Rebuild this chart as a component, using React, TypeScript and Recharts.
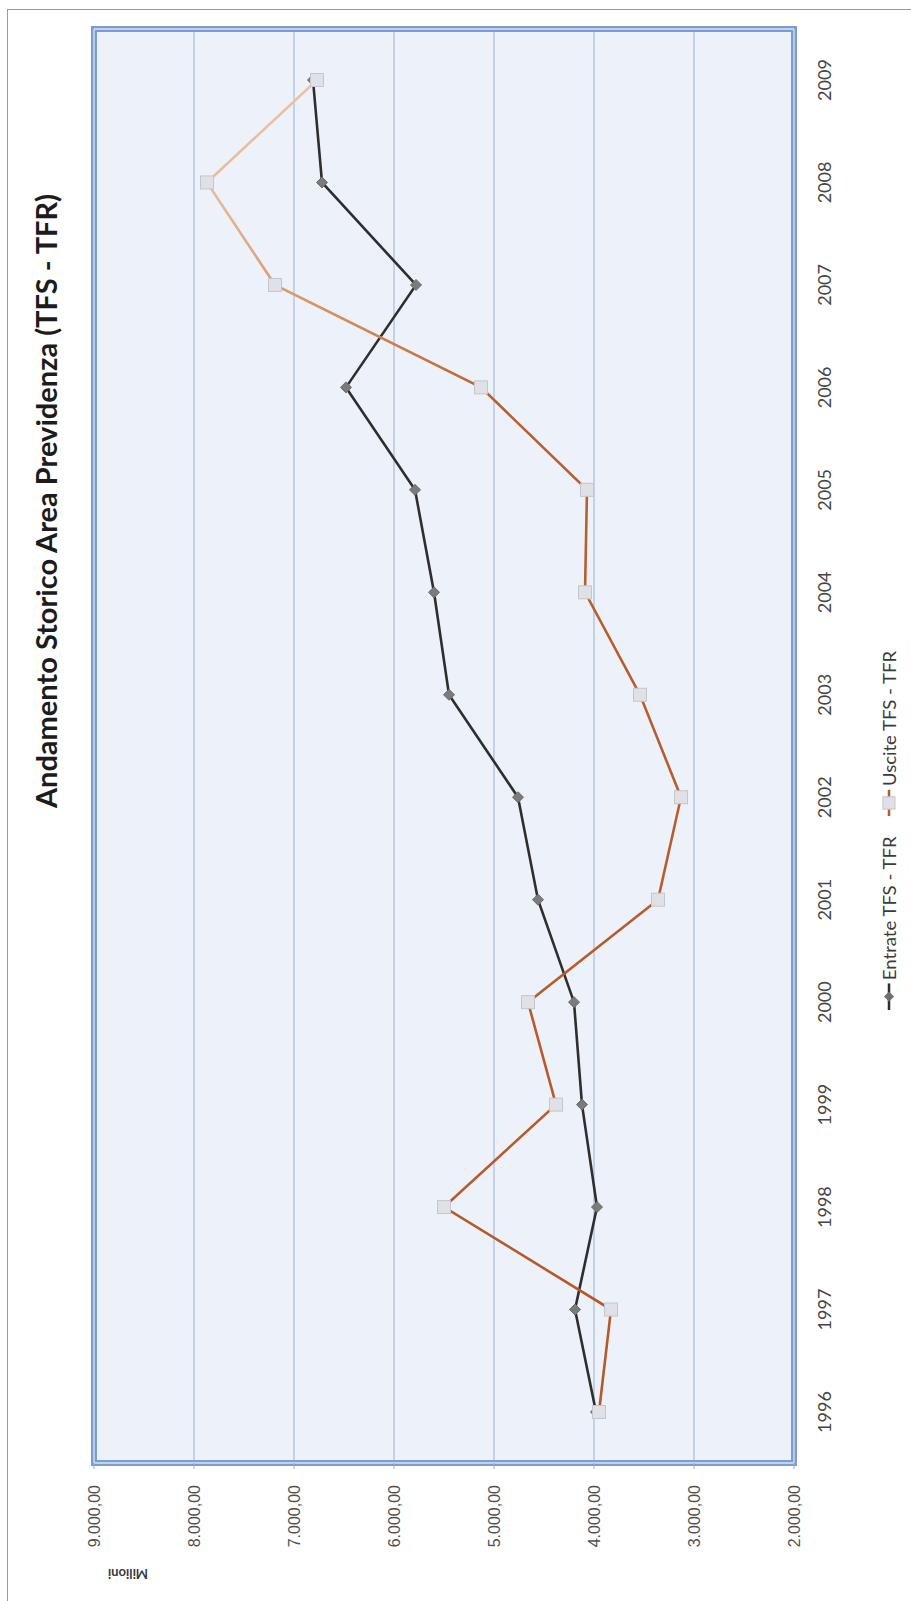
import React from "react";
import { CartesianGrid, Line, LineChart, XAxis, YAxis } from "recharts";

// Andamento storico area previdenza, valori in milioni
const years = [
  "1996", "1997", "1998", "1999", "2000", "2001", "2002",
  "2003", "2004", "2005", "2006", "2007", "2008", "2009",
];
const entrate = [3980, 4190, 3970, 4120, 4200, 4560, 4760, 5450, 5600, 5790, 6480, 5780, 6720, 6810];
const uscite = [3950, 3830, 5500, 4380, 4660, 3360, 3130, 3540, 4090, 4070, 5130, 7190, 7870, 6770];

const valueTicks = [2000, 3000, 4000, 5000, 6000, 7000, 8000, 9000];

const seriesNames = { entrate: "Entrate TFS - TFR", uscite: "Uscite TFS - TFR" };

const data = years.map((year, i) => ({ year, entrate: entrate[i], uscite: uscite[i] }));

// 9000 -> "9.000,00"
const fmtIt = (v: number) =>
  String(Math.trunc(v)).replace(/\B(?=(\d{3})+(?!\d))/g, ".") + ",00";

const W = 1601;
const H = 911;
const CALIBRI = "Lato, 'Open Sans', sans-serif";

// frame lines along the edges of the plot area
const edgeRows = ({ offset }: any) => (offset ? [offset.top, offset.top + offset.height] : []);
const edgeCols = ({ offset }: any) => (offset ? [offset.left, offset.left + offset.width] : []);

function Diamond(props: any) {
  const { cx, cy, index } = props;
  if (cx == null || cy == null) return <g key={index} />;
  const r = 5.5;
  return (
    <polygon
      key={`d-${index}`}
      points={`${cx},${cy - r} ${cx + r},${cy} ${cx},${cy + r} ${cx - r},${cy}`}
      fill="#7b7b7d"
      stroke="#6a6a6c"
      strokeWidth={1}
    />
  );
}

function Square(props: any) {
  const { cx, cy, index } = props;
  if (cx == null || cy == null) return <g key={index} />;
  const s = 13;
  return (
    <rect
      key={`s-${index}`}
      x={cx - s / 2}
      y={cy - s / 2}
      width={s}
      height={s}
      fill="#dfe1e6"
      stroke="#c3c6cc"
      strokeWidth={1}
    />
  );
}

function LegendItem({ kind, label }: { kind: "diamond" | "square"; label: string }) {
  const color = kind === "diamond" ? "#2e2e2e" : "#b65a2e";
  return (
    <div style={{ display: "flex", alignItems: "center", gap: 3 }}>
      <svg width={26} height={16}>
        <line x1={0} y1={8} x2={26} y2={8} stroke={color} strokeWidth={2.5} />
        {kind === "diamond" ? (
          <polygon points="13,3 18,8 13,13 8,8" fill="#6f6f71" />
        ) : (
          <rect x={7} y={2} width={12} height={12} fill="#dfe1e6" stroke="#c3c6cc" />
        )}
      </svg>
      <span>{label}</span>
    </div>
  );
}

export default function App() {
  return (
    <div
      style={{
        position: "absolute",
        left: 0,
        top: 0,
        width: H,
        height: W,
        overflow: "hidden",
        background: "#ffffff",
      }}
    >
      {/* the whole chart is laid out landscape and turned a quarter left */}
      <div
        style={{
          position: "absolute",
          left: 0,
          top: 0,
          width: W,
          height: H,
          transform: `translate(0px, ${W}px) rotate(-90deg)`,
          transformOrigin: "0 0",
        }}
      >
        <div
          style={{
            position: "absolute",
            left: 0,
            top: 7,
            width: W - 10,
            height: H,
            borderTop: "1px solid #9a9a9a",
            borderRight: "1px solid #9a9a9a",
          }}
        />
        <div
          style={{
            position: "absolute",
            left: 1100,
            top: 28,
            transform: "translateX(-50%)",
            whiteSpace: "nowrap",
            fontFamily: CALIBRI,
            fontWeight: 700,
            fontSize: 29,
            lineHeight: "36px",
            color: "#1c1c1c",
          }}
        >
          Andamento Storico Area Previdenza (TFS - TFR)
        </div>
        <div
          style={{
            position: "absolute",
            left: 27,
            top: 128,
            transform: "translate(-50%, -50%) rotate(-90deg)",
            fontFamily: CALIBRI,
            fontWeight: 700,
            fontSize: 13,
            color: "#3a3a3a",
          }}
        >
          Milioni
        </div>
        <LineChart
          width={W}
          height={H}
          data={data}
          margin={{ top: 94, right: 29, bottom: 57, left: 30 }}
        >
          <defs>
            <linearGradient id="uscGrad" x1="0" y1="0" x2="1" y2="0">
              <stop offset="0" stopColor="#b5582b" />
              <stop offset="0.76" stopColor="#b9602f" />
              <stop offset="0.84" stopColor="#dc9a6c" />
              <stop offset="0.92" stopColor="#e8bc9c" />
              <stop offset="1" stopColor="#e9c2a6" />
            </linearGradient>
          </defs>
          <CartesianGrid vertical={false} fill="#edf2fa" stroke="#a9badb" strokeWidth={1.2} />
          <CartesianGrid
            fill="none"
            stroke="#7c9dd2"
            strokeWidth={6}
            strokeLinecap="square"
            horizontalCoordinatesGenerator={edgeRows}
            verticalCoordinatesGenerator={edgeCols}
          />
          <CartesianGrid
            fill="none"
            stroke="#d8e3f5"
            strokeWidth={1.3}
            horizontalCoordinatesGenerator={edgeRows}
            verticalCoordinatesGenerator={edgeCols}
          />
          <XAxis
            dataKey="year"
            interval={0}
            padding={{ left: 51, right: 51 }}
            height={60}
            tickSize={0}
            tickMargin={24}
            axisLine={false}
            tickLine={false}
            tick={{ fill: "#454545", fontSize: 18, fontFamily: CALIBRI }}
          />
          <YAxis
            width={108}
            type="number"
            domain={[2000, 9000]}
            ticks={valueTicks}
            tickFormatter={fmtIt}
            tickSize={6}
            tickMargin={16}
            axisLine={false}
            tickLine={{ stroke: "#8ea6d2" }}
            tick={{ fill: "#505050", fontSize: 16, fontFamily: "'Liberation Sans', Arial, sans-serif" }}
          />
          <Line
            dataKey="entrate"
            name={seriesNames.entrate}
            stroke="#2e2e2e"
            strokeWidth={2.6}
            dot={Diamond}
            activeDot={false}
            isAnimationActive={false}
          />
          <Line
            dataKey="uscite"
            name={seriesNames.uscite}
            stroke="url(#uscGrad)"
            strokeWidth={2.6}
            dot={Square}
            activeDot={false}
            isAnimationActive={false}
          />
        </LineChart>
        <div
          style={{
            position: "absolute",
            left: 591,
            top: 878,
            display: "flex",
            gap: 20,
            fontFamily: CALIBRI,
            fontSize: 18,
            color: "#3a3a3a",
            whiteSpace: "nowrap",
            transform: "scaleX(1.03)",
            transformOrigin: "0 50%",
          }}
        >
          <LegendItem kind="diamond" label={seriesNames.entrate} />
          <LegendItem kind="square" label={seriesNames.uscite} />
        </div>
      </div>
    </div>
  );
}
